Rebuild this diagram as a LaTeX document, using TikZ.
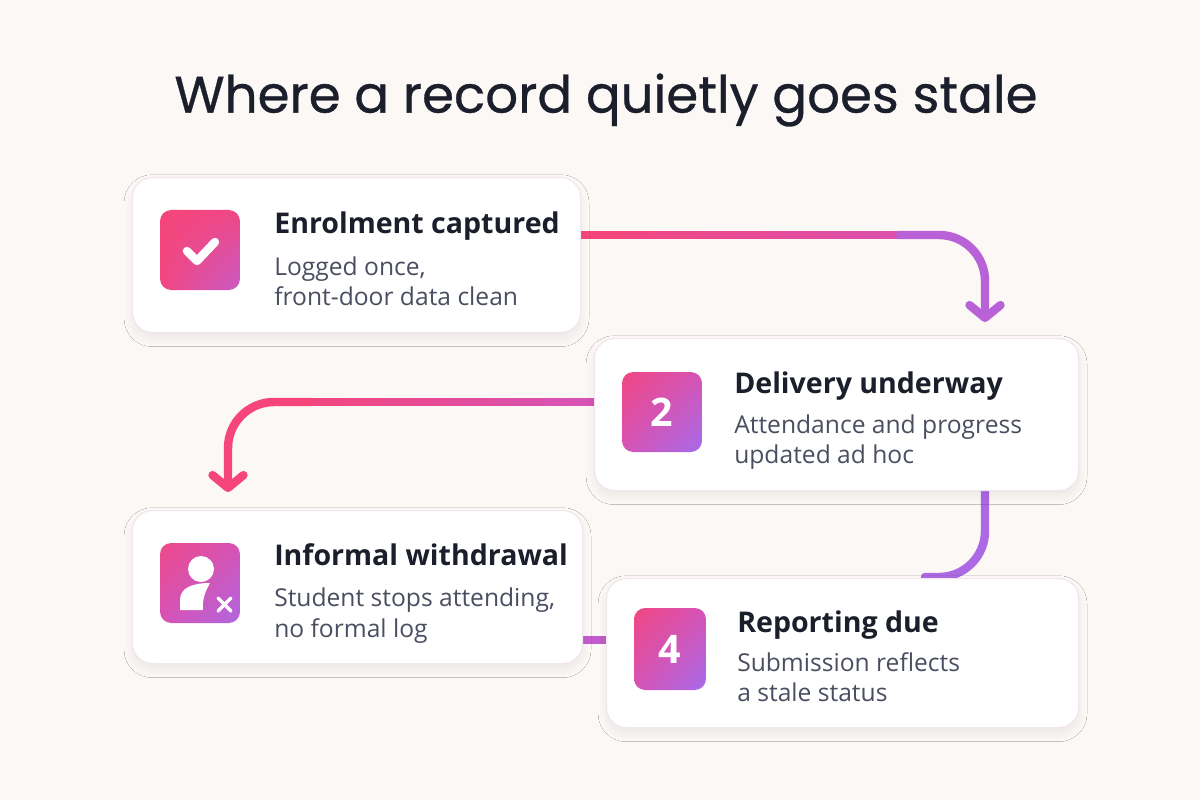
\documentclass[tikz,border=0pt]{standalone}
\usepackage{fontspec}
\setmainfont{Poppins}
\newfontfamily\titlefont[FakeBold=0.6]{Poppins}
\newfontfamily\bodyfont{Open Sans}
\usetikzlibrary{arrows.meta,shadows.blur,calc,shadings}
\definecolor{bg}{HTML}{FBF8F6}
\definecolor{pinkA}{HTML}{F5457A}
\definecolor{magA}{HTML}{D653B6}
\definecolor{purA}{HTML}{A66BEB}
\definecolor{ink}{HTML}{1B1E2B}
\definecolor{sub}{HTML}{4A4E60}
\definecolor{edge}{HTML}{F0E6EE}
\tikzset{
  card/.style={draw=edge,line width=0.8pt,fill=white,rounded corners=14pt,anchor=north west,
    blur shadow={shadow xshift=0pt,shadow yshift=-4pt,shadow blur radius=6pt,shadow opacity=7,shadow blur steps=10}},
  ttl/.style={anchor=base west,inner sep=0pt,font=\fontsize{20.3}{24}\selectfont\bodyfont\bfseries,text=ink},
  stx/.style={anchor=base west,inner sep=0pt,font=\fontsize{17.5}{26}\selectfont\bodyfont,text=sub,align=left},
  conn/.style={line width=6pt,line cap=round,rounded corners=1.15cm},
  tip/.style={-{Straight Barb[length=9pt,width=22pt,line width=6pt,round]}},
  num/.style={text=white,font=\fontsize{28}{30}\selectfont\bodyfont\bfseries}
}
\begin{document}
\begin{tikzpicture}[x=0.025cm,y=-0.025cm]
\fill[bg] (0,0) rectangle (1200,800);
\useasboundingbox (0,0) rectangle (1200,800);
\node[font=\fontsize{36.6}{40}\selectfont\titlefont,text=ink] (title) at (606,100) {Where a record quietly goes stale};

% connectors behind cards
\coordinate (a1) at (580,235);
\coordinate (a2) at (985,322);
\foreach \i in {0,...,17}{
  \draw[conn,color=magA!\fpeval{\i*5}!pinkA] ($(a1)+(\i*18,0)$) -- ($(a1)+(\i*18+19,0)$);
}
\draw[conn,magA!40!purA,tip] (900,235) -- (985,235) -- (a2);
\coordinate (b1) at (594,402);
\coordinate (b2) at (228,492);
\foreach \i in {0,...,15}{
  \draw[conn,color=magA!\fpeval{100-\i*6}!pinkA] ($(b1)-(\i*18,0)$) -- ($(b1)-(\i*18+19,0)$);
}
\draw[conn,pinkA,tip] (310,402) -- (228,402) -- (b2);
\draw[conn,purA!85!magA] (985,485) -- (985,577) -- (925,577);
\draw[conn,magA!60!purA,rounded corners=0pt] (575,640) -- (612,640);

% cards
\node[card,minimum width=448*0.025cm,minimum height=155*0.025cm] (c1) at (132,177) {};
\node[card,minimum width=484*0.025cm,minimum height=152*0.025cm] (c2) at (594,338) {};
\node[card,minimum width=450*0.025cm,minimum height=153*0.025cm] (c3) at (132,510) {};
\node[card,minimum width=472*0.025cm,minimum height=149*0.025cm] (c4) at (606,578) {};

% icons
\shade[rounded corners=8pt,upper left=pinkA,upper right=pinkA!80!magA,lower left=pinkA!90!magA,lower right=magA!70!purA] (160,210) rectangle (240,290);
\node (i1) at (200,250) {};
\draw[white,line width=6pt,line cap=round,line join=round] (187,251) -- (197,261) -- (215,242);
\shade[rounded corners=8pt,upper left=pinkA!85!magA,upper right=magA,lower left=magA,lower right=purA] (622,372) rectangle (702,452);
\node[num] (i2) at (662,412) {2};
\shade[rounded corners=8pt,upper left=pinkA!75!magA,upper right=magA,lower left=magA,lower right=purA!80!magA] (160,543) rectangle (240,623);
\node (i3) at (200,583) {};
\fill[white] (201,569) circle (13);
\fill[white] (180,610) -- (180,600) .. controls (180,588) and (192,583) .. (210,583) .. controls (205,592) and (202,600) .. (203,610) -- cycle;
\draw[white,line width=2.5pt,line cap=round] (218,598) -- (231,611) (231,598) -- (218,611);
\shade[rounded corners=8pt,upper left=pinkA!85!magA,upper right=magA,lower left=magA,lower right=purA] (634,608) rectangle (706,690);
\node[num] (i4) at (670,649) {4};

% texts
\node[ttl] (t1) at (274,234) {Enrolment captured};
\node[stx] (s1) at (274,275) {Logged once,};
\node[stx] (s1b) at (274,305) {front-door data clean};
\node[ttl] (t2) at (734,393) {Delivery underway};
\node[stx] (s2) at (734,433) {Attendance and progress};
\node[stx] (s2b) at (734,463) {updated ad hoc};
\node[ttl] (t3) at (274,565) {Informal withdrawal};
\node[stx] (s3) at (274,606) {Student stops attending,};
\node[stx] (s3b) at (274,637) {no formal log};
\node[ttl] (t4) at (737,632) {Reporting due};
\node[stx] (s4) at (737,671) {Submission reflects};
\node[stx] (s4b) at (737,701) {a stale status};
\end{tikzpicture}
\end{document}
